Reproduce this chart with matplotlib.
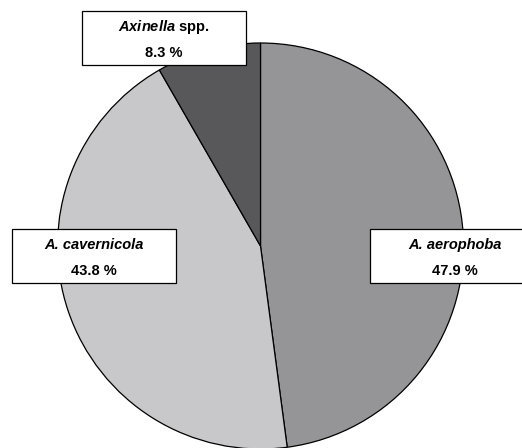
import matplotlib
matplotlib.use("Agg")
import matplotlib.pyplot as plt
from matplotlib.patches import Rectangle

species = ["A. aerophoba", "A. cavernicola", "Axinella spp."]
percent = [47.9, 43.8, 8.3]
colors = ["#959598", "#c8c8ca", "#58585a"]

plt.rcParams['font.family'] = ['Liberation Sans', 'DejaVu Sans']
plt.rcParams['mathtext.fontset'] = 'custom'
plt.rcParams['mathtext.it'] = 'Liberation Sans:italic:bold'
plt.rcParams['mathtext.rm'] = 'Liberation Sans:bold'

W, H = 522, 448
fig = plt.figure(figsize=(W / 100, H / 100), dpi=100)
ax = fig.add_axes([0, 0, 1, 1])

cx, cy, r = 260.5, H - 246, 203
ax.pie(percent, colors=colors, startangle=90, counterclock=False,
       center=(cx, cy), radius=r, frame=True,
       wedgeprops=dict(edgecolor="black", linewidth=0.9))
ax.set_xlim(0, W)
ax.set_ylim(0, H)
ax.set_aspect('auto')
ax.axis('off')

# label boxes: (x0, x1, ytop, ybottom) in image pixel coords
boxes = [(370, 545, 229, 283), (12, 176, 229, 283), (82, 246, 11, 65)]
line1 = [r"A. aerophoba", r"A. cavernicola", r"$\mathit{Axinella}$ spp."]
styles = ["italic", "italic", "normal"]
for (x0, x1, yt, yb), l1, st, p in zip(boxes, line1, styles, percent):
    ax.add_patch(Rectangle((x0, H - yb), x1 - x0, yb - yt, facecolor="white",
                           edgecolor="black", linewidth=0.9, zorder=5))
    xc = (x0 + x1) / 2
    if x1 > W:
        xc = 455
    ax.text(xc, H - (yt + 16), l1, ha="center", va="center", fontsize=10.5,
            fontweight="bold", fontstyle=st, zorder=6)
    ax.text(xc, H - (yt + 42), f"{p} %", ha="center", va="center", fontsize=10.5,
            fontweight="bold", zorder=6)

fig.savefig("out.png", dpi=100)
